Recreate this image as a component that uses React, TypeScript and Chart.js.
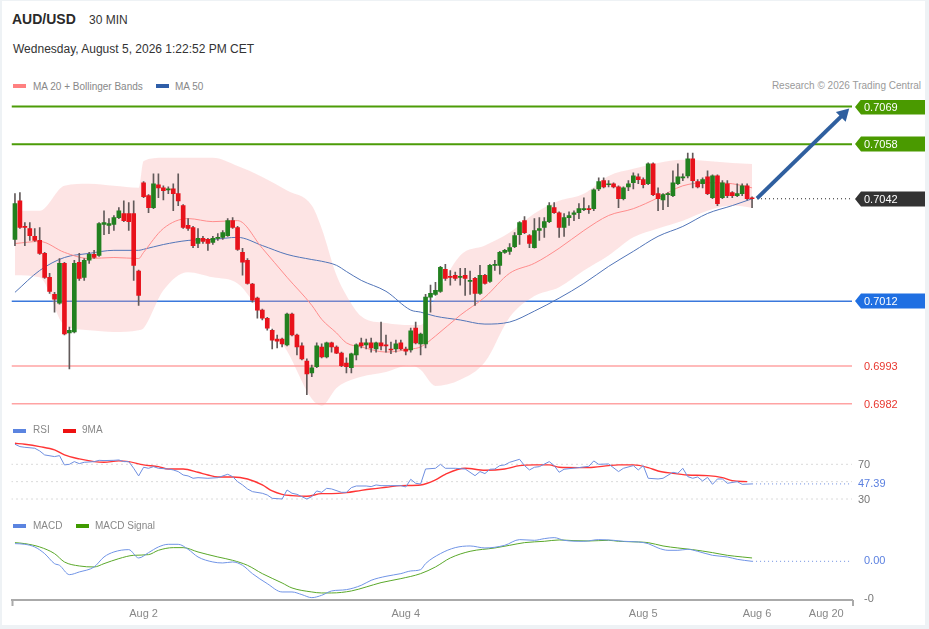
import React, { useEffect, useRef } from "react";
import { Chart, registerables } from "chart.js";

Chart.register(...registerables);

const FONT = '"Liberation Sans", Arial, Helvetica, sans-serif';

// ---------- price data (30 min candles) ----------
const opens = [0.70301,0.70414,0.70339,0.70333,0.70310,0.70298,0.70260,0.70190,0.70140,0.70114,0.70231,0.70027,0.70030,0.70234,0.70190,0.70240,0.70257,0.70254,0.70345,0.70342,0.70345,0.70365,0.70377,0.70377,0.70377,0.70208,0.70467,0.70429,0.70394,0.70461,0.70452,0.70446,0.70449,0.70435,0.70400,0.70342,0.70336,0.70289,0.70304,0.70301,0.70292,0.70304,0.70307,0.70312,0.70356,0.70336,0.70263,0.70240,0.70170,0.70129,0.70094,0.70070,0.70035,0.70009,0.70009,0.69992,0.70082,0.70021,0.69989,0.69945,0.69910,0.69928,0.69986,0.69957,0.69998,0.69986,0.69968,0.69939,0.69925,0.69963,0.69998,0.69992,0.69998,0.69980,0.69998,0.69992,0.69980,0.69980,0.69998,0.69980,0.69977,0.70041,0.69995,0.69995,0.70132,0.70140,0.70149,0.70213,0.70193,0.70196,0.70190,0.70196,0.70178,0.70187,0.70143,0.70196,0.70178,0.70225,0.70225,0.70263,0.70266,0.70280,0.70315,0.70356,0.70312,0.70277,0.70327,0.70336,0.70353,0.70394,0.70379,0.70336,0.70365,0.70374,0.70379,0.70388,0.70391,0.70391,0.70449,0.70473,0.70461,0.70464,0.70455,0.70420,0.70455,0.70467,0.70484,0.70476,0.70464,0.70522,0.70435,0.70417,0.70432,0.70429,0.70464,0.70481,0.70487,0.70537,0.70470,0.70464,0.70484,0.70423,0.70487,0.70423,0.70464,0.70438,0.70429,0.70435,0.70458,0.70423];
const highs = [0.70435,0.70438,0.70350,0.70350,0.70333,0.70336,0.70263,0.70202,0.70146,0.70245,0.70234,0.70044,0.70240,0.70260,0.70245,0.70263,0.70269,0.70350,0.70385,0.70362,0.70371,0.70394,0.70414,0.70409,0.70414,0.70211,0.70470,0.70432,0.70493,0.70493,0.70458,0.70455,0.70464,0.70493,0.70403,0.70362,0.70339,0.70333,0.70310,0.70304,0.70310,0.70318,0.70327,0.70362,0.70365,0.70339,0.70275,0.70245,0.70172,0.70132,0.70097,0.70073,0.70038,0.70021,0.70012,0.70085,0.70085,0.70024,0.69998,0.69951,0.69933,0.69998,0.69995,0.70000,0.70000,0.69989,0.69971,0.69954,0.69968,0.69995,0.70012,0.70009,0.70012,0.70000,0.70059,0.70021,0.70000,0.70006,0.70006,0.69986,0.70041,0.70059,0.70027,0.70140,0.70167,0.70175,0.70222,0.70228,0.70210,0.70205,0.70216,0.70216,0.70208,0.70190,0.70225,0.70199,0.70228,0.70240,0.70266,0.70272,0.70289,0.70321,0.70353,0.70368,0.70315,0.70362,0.70365,0.70365,0.70409,0.70409,0.70382,0.70377,0.70382,0.70385,0.70406,0.70423,0.70400,0.70449,0.70481,0.70481,0.70473,0.70467,0.70458,0.70455,0.70473,0.70496,0.70493,0.70481,0.70525,0.70525,0.70452,0.70435,0.70438,0.70502,0.70522,0.70493,0.70554,0.70554,0.70476,0.70481,0.70502,0.70490,0.70490,0.70473,0.70473,0.70441,0.70464,0.70464,0.70464,0.70426];
const lows = [0.70283,0.70333,0.70283,0.70298,0.70295,0.70257,0.70187,0.70143,0.70088,0.70111,0.70021,0.69922,0.70027,0.70181,0.70181,0.70231,0.70245,0.70251,0.70315,0.70318,0.70327,0.70362,0.70353,0.70327,0.70181,0.70108,0.70423,0.70379,0.70391,0.70423,0.70417,0.70435,0.70385,0.70400,0.70333,0.70327,0.70277,0.70277,0.70289,0.70269,0.70286,0.70298,0.70301,0.70310,0.70333,0.70269,0.70196,0.70170,0.70117,0.70070,0.70065,0.70035,0.69980,0.69983,0.69986,0.69989,0.70018,0.69963,0.69948,0.69846,0.69899,0.69925,0.69954,0.69954,0.69971,0.69966,0.69928,0.69910,0.69910,0.69948,0.69983,0.69980,0.69971,0.69971,0.69977,0.69971,0.69966,0.69971,0.69977,0.69963,0.69971,0.69995,0.69963,0.69983,0.70088,0.70137,0.70146,0.70181,0.70167,0.70181,0.70167,0.70137,0.70140,0.70108,0.70140,0.70170,0.70175,0.70210,0.70199,0.70260,0.70257,0.70277,0.70286,0.70318,0.70277,0.70275,0.70298,0.70307,0.70350,0.70377,0.70307,0.70310,0.70342,0.70356,0.70362,0.70385,0.70377,0.70385,0.70444,0.70452,0.70455,0.70452,0.70394,0.70417,0.70444,0.70449,0.70464,0.70452,0.70461,0.70429,0.70385,0.70388,0.70397,0.70426,0.70461,0.70473,0.70481,0.70452,0.70452,0.70452,0.70432,0.70420,0.70400,0.70420,0.70423,0.70423,0.70426,0.70429,0.70417,0.70394];
const closes = [0.70406,0.70336,0.70336,0.70312,0.70298,0.70260,0.70190,0.70149,0.70126,0.70231,0.70024,0.70035,0.70231,0.70187,0.70240,0.70257,0.70248,0.70347,0.70350,0.70347,0.70365,0.70385,0.70356,0.70353,0.70225,0.70137,0.70426,0.70394,0.70464,0.70452,0.70444,0.70449,0.70435,0.70414,0.70336,0.70333,0.70283,0.70304,0.70295,0.70289,0.70304,0.70307,0.70321,0.70356,0.70336,0.70272,0.70234,0.70172,0.70123,0.70094,0.70070,0.70041,0.70006,0.70003,0.69995,0.70082,0.70021,0.69986,0.69951,0.69907,0.69925,0.69989,0.69957,0.69998,0.69986,0.69968,0.69931,0.69928,0.69966,0.69992,0.69989,0.69998,0.69983,0.69998,0.69989,0.69989,0.69977,0.69995,0.69980,0.69974,0.70033,0.69998,0.70024,0.70132,0.70143,0.70152,0.70219,0.70187,0.70190,0.70187,0.70193,0.70187,0.70181,0.70143,0.70196,0.70172,0.70225,0.70228,0.70263,0.70269,0.70277,0.70312,0.70350,0.70321,0.70289,0.70327,0.70333,0.70353,0.70400,0.70379,0.70336,0.70365,0.70371,0.70379,0.70391,0.70391,0.70388,0.70446,0.70470,0.70455,0.70464,0.70455,0.70420,0.70452,0.70464,0.70487,0.70476,0.70461,0.70522,0.70432,0.70420,0.70432,0.70435,0.70467,0.70484,0.70484,0.70537,0.70473,0.70455,0.70476,0.70435,0.70487,0.70406,0.70467,0.70429,0.70429,0.70435,0.70458,0.70420,0.70420];

// ---------- indicator lines (sampled at candle indices) ----------
const bandIdx = [0,5,10,15,20,25,26,30,35,40,45,50,55,60,62,65,67,70,75,80,82,85,90,95,100,105,110,115,120,125,130,135,140,145,149];
const upperBand = [0.70385,0.70385,0.70458,0.70464,0.70458,0.70452,0.70531,0.70540,0.70540,0.70540,0.70516,0.70484,0.70444,0.70400,0.70333,0.70196,0.70137,0.70076,0.70056,0.70050,0.70050,0.70132,0.70254,0.70283,0.70321,0.70377,0.70414,0.70435,0.70487,0.70508,0.70525,0.70534,0.70531,0.70525,0.70522];
const lowerBand = [0.70196,0.70190,0.70050,0.70035,0.70030,0.70035,0.70041,0.70152,0.70205,0.70190,0.70172,0.70079,0.69974,0.69834,0.69814,0.69866,0.69884,0.69899,0.69913,0.69933,0.69919,0.69872,0.69890,0.69942,0.70073,0.70135,0.70161,0.70210,0.70254,0.70307,0.70333,0.70356,0.70385,0.70400,0.70394];
const ma20 = [0.70289,0.70295,0.70263,0.70245,0.70248,0.70245,0.70263,0.70333,0.70362,0.70353,0.70356,0.70275,0.70190,0.70108,0.70067,0.70027,0.69998,0.69986,0.69971,0.69980,0.69986,0.70018,0.70079,0.70132,0.70202,0.70231,0.70275,0.70327,0.70371,0.70391,0.70423,0.70458,0.70467,0.70464,0.70452];
const ma50 = [0.70146,0.70210,0.70248,0.70260,0.70269,0.70269,0.70272,0.70286,0.70298,0.70301,0.70307,0.70283,0.70257,0.70242,0.70237,0.70225,0.70207,0.70181,0.70149,0.70094,0.70088,0.70076,0.70065,0.70053,0.70059,0.70091,0.70129,0.70172,0.70222,0.70266,0.70310,0.70339,0.70377,0.70400,0.70420];

// ---------- key levels ----------
const levelValues = [0.7069, 0.7058, 0.7012, 0.6993, 0.6982];
const levelKinds = ["res", "res", "pivot", "sup", "sup"];
const arrowIdx = [150, 167.5];
const arrowPrice = [0.70421, 0.70668];

// ---------- RSI ----------
const rsiIdx = [0,1,2,4,5,6,8,9,10,11,12,13,14,16,17,18,20,21,22,23,24,25,26,27,28,29,31,32,33,34,35,36,37,39,41,43,44,45,46,47,48,50,51,52,54,55,56,57,58,59,60,61,62,63,64,66,67,68,69,71,72,73,74,76,78,79,80,81,82,83,85,86,87,89,91,93,94,95,96,97,98,99,100,102,103,104,105,106,108,109,110,111,114,116,117,118,120,122,123,125,126,127,128,130,131,133,134,135,136,137,138,139,140,141,142,143,144,146,147,149];
const rsiVals = [93.1,90.4,89.6,88.5,85.4,80.8,78.9,80.0,69.3,70.0,73.1,70.8,72.3,73.1,74.6,74.3,74.6,75.0,73.1,73.1,65.4,56.6,66.6,65.4,67.3,65.4,64.6,63.5,61.6,57.7,56.6,53.9,54.6,53.9,54.6,58.5,55.8,50.0,46.2,41.6,38.5,36.6,34.6,30.8,30.0,40.4,36.6,35.4,32.7,30.0,32.7,39.3,37.7,42.3,41.6,37.7,37.7,43.1,45.0,45.0,44.3,46.2,45.4,45.4,45.4,43.9,52.7,48.1,47.3,64.6,65.4,70.0,65.4,65.4,64.6,56.9,61.6,59.3,64.3,64.6,68.5,69.3,72.3,75.8,68.5,63.5,66.6,67.3,73.1,68.5,60.8,64.3,66.2,67.7,73.9,70.0,70.4,61.6,65.4,68.5,63.5,68.5,53.9,53.1,53.9,60.8,59.6,65.4,55.8,53.9,55.4,50.8,55.0,46.9,53.1,53.1,48.1,50.0,46.9,47.39];
const rsiMaIdx = [0,2,5,8,10,13,16,18,21,23,26,29,31,34,37,39,41,44,47,50,52,54,56,59,62,64,67,70,72,75,78,82,85,87,91,95,99,102,105,108,110,114,117,120,122,125,128,130,133,136,140,143,145,148];
const rsiMaVals = [94.2,93.1,90.4,86.6,80.8,76.2,73.1,72.3,73.9,73.1,69.3,67.3,64.6,64.6,60.8,57.7,55.4,55.4,53.1,46.2,39.3,35.4,33.9,33.1,36.2,36.2,37.3,40.0,41.6,43.5,45.4,46.2,52.0,58.5,65.4,63.1,64.6,68.5,69.3,69.3,66.6,66.2,66.6,68.5,69.3,69.3,66.2,62.3,59.6,57.7,56.9,54.6,51.2,50.0];
const rsiGuides = [70, 50, 30];
const rsiLabeled = [70, 30];

// ---------- MACD ----------
const macdIdx = [0,2,4,6,8,9,11,13,16,18,20,23,25,27,29,31,33,35,37,40,42,44,46,48,51,54,56,58,60,62,64,67,70,72,75,78,80,82,83,86,89,92,95,99,102,105,107,109,111,115,118,121,123,126,128,130,132,134,136,138,141,144,146,149];
const macdVals = [0.00055,0.00053,0.00045,0.00025,-0.00005,-0.00010,-0.00038,-0.00030,-0.00015,0.00015,0.00030,0.00037,0.00012,0.00028,0.00045,0.00053,0.00053,0.00038,0.00015,0.00000,-0.00003,0.00000,-0.00010,-0.00035,-0.00065,-0.00090,-0.00090,-0.00098,-0.00107,-0.00100,-0.00087,-0.00083,-0.00070,-0.00055,-0.00043,-0.00035,-0.00027,-0.00023,-0.00005,0.00025,0.00043,0.00048,0.00042,0.00050,0.00067,0.00065,0.00070,0.00073,0.00065,0.00062,0.00067,0.00065,0.00062,0.00060,0.00055,0.00042,0.00035,0.00035,0.00038,0.00032,0.00020,0.00015,0.00008,0.00002];
const signalIdx = [0,2,5,8,10,13,16,18,21,24,27,29,32,34,37,41,44,47,50,54,56,60,62,64,68,71,74,78,82,85,88,92,97,100,103,107,110,113,116,120,122,126,128,131,134,137,141,144,147,149];
const signalVals = [0.00058,0.00055,0.00045,0.00025,0.00000,-0.00012,-0.00015,-0.00005,0.00010,0.00020,0.00022,0.00035,0.00043,0.00043,0.00030,0.00015,0.00005,-0.00010,-0.00035,-0.00063,-0.00078,-0.00090,-0.00093,-0.00093,-0.00087,-0.00075,-0.00062,-0.00050,-0.00035,-0.00015,0.00012,0.00032,0.00042,0.00050,0.00058,0.00062,0.00066,0.00064,0.00063,0.00065,0.00062,0.00060,0.00058,0.00048,0.00042,0.00037,0.00028,0.00020,0.00015,0.00012];

// ---------- time axis ----------
const tickIdx = [26, 79, 127, 150, 164];
const tickLabels = ["Aug 2", "Aug 4", "Aug 5", "Aug 6", "Aug 20"];

// ---------- layout / style constants ----------
const W = 929;
const X_MIN = -0.7;
const X_MAX = 169.2;
const PAD_L = 11.5;
const PAD_R = 77;
const UP = "#22801f";
const DOWN = "#e8121b";
const WICK = "#625a5a";
const LEVEL_LINE: Record<string, { color: string; width: number }> = {
  res: { color: "#4c9c08", width: 2 },
  pivot: { color: "#3a78dc", width: 1.5 },
  sup: { color: "#ffa3a3", width: 1.5 },
};
const LEVEL_LABEL: Record<string, { box: string | null; text: string }> = {
  res: { box: "#4a9a00", text: "#ffffff" },
  pivot: { box: "#1f6fe2", text: "#ffffff" },
  last: { box: "#333333", text: "#ffffff" },
  sup: { box: null, text: "#e8372f" },
};

const pts = (xs: number[], ys: number[]) => xs.map((x, k) => ({ x, y: ys[k] }));
const hline = (v: number, from = X_MIN, to = X_MAX) => [{ x: from, y: v }, { x: to, y: v }];

function line(label: string, data: any[], color: string, width: number, extra: any = {}) {
  return { type: "line", label, data, borderColor: color, borderWidth: width, pointRadius: 0, fill: false, ...extra };
}

const baseOptions = (yMin: number, yMax: number, padBottom = 0) => ({
  animation: false,
  responsive: false,
  maintainAspectRatio: false,
  events: [],
  layout: { autoPadding: false, padding: { left: PAD_L, right: PAD_R, top: 0, bottom: padBottom } },
  plugins: { legend: { display: false }, tooltip: { enabled: false } },
  scales: {
    x: { type: "linear", min: X_MIN, max: X_MAX, display: false, offset: false },
    y: { type: "linear", min: yMin, max: yMax, display: false },
  },
});

function drawText(ctx: CanvasRenderingContext2D, text: string, x: number, y: number, color: string) {
  ctx.fillStyle = color;
  ctx.fillText(text, x, y);
}

const levelLabelPlugin = {
  id: "levelLabels",
  afterDraw(chart: any) {
    const { ctx, chartArea, scales } = chart;
    const lastClose = closes[closes.length - 1];
    const items = levelValues.map((v, k) => ({ v, kind: levelKinds[k] }));
    items.push({ v: lastClose, kind: "last" });
    ctx.save();
    ctx.font = `11px ${FONT}`;
    ctx.textBaseline = "middle";
    for (const it of items) {
      const py = Math.round(scales.y.getPixelForValue(it.v));
      const st = LEVEL_LABEL[it.kind];
      const tip = chartArea.right + 3;
      if (st.box) {
        ctx.fillStyle = st.box;
        ctx.beginPath();
        ctx.moveTo(tip, py);
        ctx.lineTo(tip + 6, py - 7.5);
        ctx.lineTo(chart.width - 4, py - 7.5);
        ctx.lineTo(chart.width - 4, py + 7.5);
        ctx.lineTo(tip + 6, py + 7.5);
        ctx.closePath();
        ctx.fill();
      }
      drawText(ctx, it.v.toFixed(4), chartArea.right + 12, py + 0.5, st.text);
    }
    ctx.restore();
  },
};

const rsiLabelPlugin = {
  id: "rsiLabels",
  afterDraw(chart: any) {
    const { ctx, chartArea, scales } = chart;
    ctx.save();
    ctx.font = `11px ${FONT}`;
    ctx.textBaseline = "middle";
    for (const v of rsiLabeled) drawText(ctx, String(v), chartArea.right + 6, scales.y.getPixelForValue(v) + 0.5, "#777777");
    const last = rsiVals[rsiVals.length - 1];
    drawText(ctx, last.toFixed(2), chartArea.right + 6, scales.y.getPixelForValue(last) + 0.5, "#5b80e0");
    ctx.restore();
  },
};

const macdLabelPlugin = {
  id: "macdLabels",
  afterDraw(chart: any) {
    const { ctx, chartArea, scales } = chart;
    ctx.save();
    ctx.font = `11px ${FONT}`;
    ctx.textBaseline = "middle";
    const last = macdVals[macdVals.length - 1];
    drawText(ctx, last.toFixed(2), chartArea.right + 12, scales.y.getPixelForValue(last), "#5b80e0");
    drawText(ctx, scales.y.min.toFixed(0), chartArea.right + 12, chartArea.bottom - 1, "#777777");
    ctx.strokeStyle = "#aaaaaa";
    ctx.lineWidth = 2;
    ctx.beginPath();
    ctx.moveTo(chartArea.left + 1, chartArea.bottom);
    ctx.lineTo(chartArea.left + 1, chartArea.bottom + 6);
    ctx.moveTo(chartArea.right + 1, chartArea.bottom);
    ctx.lineTo(chartArea.right + 1, chartArea.bottom + 6);
    ctx.stroke();
    ctx.restore();
  },
};

function mainConfig(): any {
  const idx = closes.map((_, i) => i);
  const lastI = idx.length - 1;
  const lastClose = closes[lastI];
  return {
    type: "line",
    data: {
      datasets: [
        {
          type: "bar",
          label: "bodies",
          data: idx.map((i) => ({ x: i, y: [opens[i], closes[i]] })),
          backgroundColor: idx.map((i) => (closes[i] >= opens[i] ? UP : DOWN)),
          barThickness: 4,
          minBarLength: 1,
          grouped: false,
          order: 0,
        },
        {
          type: "bar",
          label: "wicks",
          data: idx.map((i) => ({ x: i, y: [lows[i], highs[i]] })),
          backgroundColor: WICK,
          barThickness: 1,
          grouped: false,
          order: 1,
        },
        line("MA 20", pts(bandIdx, ma20), "#ff8c8c", 1, { cubicInterpolationMode: "monotone", order: 2 }),
        line("MA 50", pts(bandIdx, ma50), "#5275b8", 1, { cubicInterpolationMode: "monotone", order: 2 }),
        line("BB upper", pts(bandIdx, upperBand), "rgba(0,0,0,0)", 0, {
          cubicInterpolationMode: "monotone",
          fill: "+1",
          backgroundColor: "rgba(250,165,165,0.3)",
          order: 3,
        }),
        line("BB lower", pts(bandIdx, lowerBand), "rgba(0,0,0,0)", 0, { cubicInterpolationMode: "monotone", order: 3 }),
        ...levelValues.map((v, k) =>
          line("level", hline(v), LEVEL_LINE[levelKinds[k]].color, LEVEL_LINE[levelKinds[k]].width, { order: 4 })
        ),
        line("last", hline(lastClose, lastI + 1, X_MAX), "#222222", 1, { borderDash: [1, 3], order: 4 }),
        line("arrow", pts(arrowIdx, arrowPrice), "#2f5f9f", 4, {
          order: -1,
          pointRadius: [0, 8],
          pointStyle: "triangle",
          rotation: [0, 45],
          pointBackgroundColor: "#2f5f9f",
          pointBorderWidth: 0,
          borderCapStyle: "butt",
        }),
      ],
    },
    options: baseOptions(0.697955, 0.707093),
    plugins: [levelLabelPlugin],
  };
}

function rsiConfig(): any {
  const last = rsiVals[rsiVals.length - 1];
  return {
    type: "line",
    data: {
      datasets: [
        ...rsiGuides.map((v) => line("guide", hline(v), "#b4b4b4", 1, { borderDash: [1, 4], order: 3 })),
        line("RSI last", hline(last, rsiIdx[rsiIdx.length - 1], X_MAX), "#6f8fe0", 1, { borderDash: [1, 3], order: 2 }),
        line("9MA", pts(rsiMaIdx, rsiMaVals), "#ff3535", 1.4, { cubicInterpolationMode: "monotone", order: 1 }),
        line("RSI", pts(rsiIdx, rsiVals), "#6f8fe0", 1, { order: 0 }),
      ],
    },
    options: baseOptions(19.63, 121.07),
    plugins: [rsiLabelPlugin],
  };
}

function macdConfig(): any {
  const last = macdVals[macdVals.length - 1];
  const opts: any = baseOptions(-0.001141, 0.001499, 7);
  opts.scales.x = {
    type: "linear",
    min: X_MIN,
    max: X_MAX,
    offset: false,
    display: true,
    grid: { display: false, drawTicks: false },
    border: { display: true, color: "#aaaaaa", width: 2 },
    afterBuildTicks: (s: any) => {
      s.ticks = tickIdx.map((v) => ({ value: v }));
    },
    afterFit: (s: any) => {
      s.height = 22;
    },
    ticks: {
      autoSkip: false,
      maxRotation: 0,
      minRotation: 0,
      padding: 7,
      color: "#888888",
      font: { size: 11, family: FONT },
      callback: (_v: any, i: number) => tickLabels[i],
    },
  };
  return {
    type: "line",
    data: {
      datasets: [
        line("MACD last", hline(last, macdIdx[macdIdx.length - 1], X_MAX), "#6f8fe0", 1, { borderDash: [1, 3], order: 2 }),
        line("MACD Signal", pts(signalIdx, signalVals), "#5aa82a", 1, { cubicInterpolationMode: "monotone", order: 1 }),
        line("MACD", pts(macdIdx, macdVals), "#7094e6", 1, { cubicInterpolationMode: "monotone", order: 0 }),
      ],
    },
    options: opts,
    plugins: [macdLabelPlugin],
  };
}

const abs = (left: number, top: number, extra: React.CSSProperties = {}): React.CSSProperties => ({
  position: "absolute",
  left,
  top,
  whiteSpace: "nowrap",
  ...extra,
});

function Swatch({ left, top, color }: { left: number; top: number; color: string }) {
  return <div style={abs(left, top, { width: 13, height: 4, background: color })} />;
}

export default function App() {
  const mainRef = useRef<HTMLCanvasElement>(null);
  const rsiRef = useRef<HTMLCanvasElement>(null);
  const macdRef = useRef<HTMLCanvasElement>(null);

  useEffect(() => {
    const charts = [
      new Chart(mainRef.current as HTMLCanvasElement, mainConfig()),
      new Chart(rsiRef.current as HTMLCanvasElement, rsiConfig()),
      new Chart(macdRef.current as HTMLCanvasElement, macdConfig()),
    ];
    return () => charts.forEach((c) => c.destroy());
  }, []);

  const legendText: React.CSSProperties = { fontSize: 10, lineHeight: "10px", color: "#888888" };

  return (
    <div style={{ position: "relative", width: W, height: 629, background: "#eef2f5", overflow: "hidden", fontFamily: FONT }}>
      <style>{"body{margin:0}"}</style>
      <div style={abs(2, 1, { width: 923, height: 624, background: "#ffffff" })} />
      <canvas ref={mainRef} width={W} height={312} style={abs(0, 100)} />
      <canvas ref={rsiRef} width={W} height={88} style={abs(0, 420)} />
      <canvas ref={macdRef} width={W} height={117} style={abs(0, 512)} />

      <div style={abs(12, 12, { fontSize: 14, lineHeight: "14px", fontWeight: 700, color: "#2a2a2a" })}>AUD/USD</div>
      <div style={abs(89, 13.5, { fontSize: 12, lineHeight: "12px", color: "#333333" })}>30 MIN</div>
      <div style={abs(13, 43.3, { fontSize: 12, lineHeight: "12px", color: "#333333" })}>
        Wednesday, August 5, 2026 1:22:52 PM CET
      </div>

      <Swatch left={13} top={84} color="#ff8080" />
      <div style={abs(33, 81.5, legendText)}>MA 20 + Bollinger Bands</div>
      <Swatch left={156} top={84} color="#2f5ea8" />
      <div style={abs(175, 81.5, legendText)}>MA 50</div>
      <div style={abs(0, 81, { ...legendText, left: "auto", right: 8, color: "#9a9a9a" })}>
        Research © 2026 Trading Central
      </div>

      <Swatch left={13} top={429} color="#5b84e0" />
      <div style={abs(33, 425.2, legendText)}>RSI</div>
      <Swatch left={63} top={429} color="#ee1111" />
      <div style={abs(82, 425.2, legendText)}>9MA</div>

      <Swatch left={13} top={524} color="#5b84e0" />
      <div style={abs(33, 521, legendText)}>MACD</div>
      <Swatch left={76} top={524} color="#3f9a00" />
      <div style={abs(95, 521, legendText)}>MACD Signal</div>
    </div>
  );
}
